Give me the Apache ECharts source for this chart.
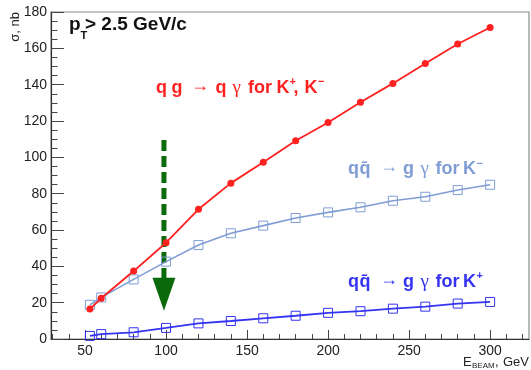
<!DOCTYPE html>
<html>
<head>
<meta charset="utf-8">
<script src="https://cdn.jsdelivr.net/npm/echarts@6/dist/echarts.min.js"></script>
<style>
  html, body { margin: 0; padding: 0; background: #fff; }
  #chart { width: 531px; height: 370px; }
</style>
</head>
<body>
<div id="chart"></div>
<script>
// Beam energy points (GeV) and photon cross sections (nb), pT > 2.5 GeV/c
const beamEnergy = [53, 60, 80, 100, 120, 140, 160, 180, 200, 220, 240, 260, 280, 300];
const sigmaQG = [16.5, 22.4, 37.4, 53.0, 71.4, 85.8, 97.3, 109.1, 119.2, 130.3, 140.7, 151.7, 162.4, 171.5];
const sigmaQQbarKminus = [18.8, 22.9, 32.8, 42.6, 51.7, 58.2, 62.4, 66.6, 69.7, 72.5, 76.1, 78.3, 82.0, 84.9];
const sigmaQQbarKplus = [1.7, 2.7, 3.7, 6.1, 8.6, 9.9, 11.4, 12.8, 14.4, 15.3, 16.7, 17.8, 19.5, 20.4];

// Axis tick values
const xMajorTicks = [50, 100, 150, 200, 250, 300];
const xMinorTicks = [30, 40, 60, 70, 80, 90, 110, 120, 130, 140, 160, 170, 180, 190,
                     210, 220, 230, 240, 260, 270, 280, 290, 310, 320];
const yMajorTicks = [0, 20, 40, 60, 80, 100, 120, 140, 160, 180];
const yMinorTicks = [5, 10, 15, 25, 30, 35, 45, 50, 55, 65, 70, 75, 85, 90, 95,
                     105, 110, 115, 125, 130, 135, 145, 150, 155, 165, 170, 175];

// Vertical arrow marker: [beam energy, shaft top (nb), tip (nb)]
const arrowMarker = [[98.7, 109.5, 15.6]];

const RED = '#ff2020';
const LIGHT_BLUE = '#7f9dd4';
const BLUE = '#3434f2';
const GREEN = '#0b6a0b';
const AXIS_DARK = '#333';
const TICK = '#444';

function pairs(xs, ys) { return xs.map((x, i) => [x, ys[i]]); }

function tok(x, y, text, font, fill, extra) {
  return Object.assign({
    type: 'text', x: x, y: y, silent: true,
    style: { text: text, font: font, fill: fill, align: 'left', verticalAlign: 'middle' }
  }, extra || {});
}

const SANS = '"Liberation Sans", Arial, sans-serif';
const BOLD = 'bold 18px ' + SANS;
const SUP = 'bold 11px ' + SANS;
const ARROW = '18px "Liberation Sans", "DejaVu Sans", sans-serif';
const GAMMA = '19px "Liberation Serif", "DejaVu Serif", serif';

function processLabel(xs, y, fill, sign) {
  // "q q̄ → g γ for K±"
  return [
    tok(xs[0], y, 'q', BOLD, fill),
    tok(xs[1], y, 'q\u0304', BOLD, fill),
    tok(xs[2], y - 2, '\u2192', ARROW, fill),
    tok(xs[3], y, 'g', BOLD, fill),
    tok(xs[4], y, '\u03b3', GAMMA, fill),
    tok(xs[5], y, 'for', BOLD, fill),
    tok(xs[6], y, 'K', BOLD, fill),
    tok(xs[7], y - 6, sign, SUP, fill)
  ];
}

const graphics = [].concat(
  // pT > 2.5 GeV/c
  [
    tok(69, 25, 'p', 'bold 19px ' + SANS, '#111'),
    tok(80.5, 36, 'T', 'bold 11px ' + SANS, '#111'),
    tok(85, 25, '> 2.5 GeV/c', 'bold 19px ' + SANS, '#111')
  ],
  // q g → q γ for K+, K−
  [
    tok(156, 88, 'q', BOLD, RED),
    tok(171.5, 88, 'g', BOLD, RED),
    tok(191, 86, '\u2192', ARROW, RED),
    tok(215.5, 88, 'q', BOLD, RED),
    tok(232.5, 88, '\u03b3', GAMMA, RED),
    tok(248, 88, 'for', BOLD, RED),
    tok(276.5, 88, 'K', BOLD, RED),
    tok(289.5, 82, '+', SUP, RED),
    tok(293.5, 88, ',', BOLD, RED),
    tok(304.5, 88, 'K', BOLD, RED),
    tok(318, 82, '\u2212', SUP, RED)
  ],
  processLabel([348, 359.5, 380, 403, 420.5, 435.5, 463, 476.5], 169.5, LIGHT_BLUE, '\u2212'),
  processLabel([348, 359.5, 380, 403, 420.5, 435.5, 463, 476.5], 282, BLUE, '+'),
  // axis titles
  [
    tok(15, 12, '\u03c3, nb', '13px ' + SANS, '#222',
        { rotation: Math.PI / 2, style: { text: '\u03c3, nb', font: '13px ' + SANS,
          fill: '#222', align: 'right', verticalAlign: 'middle' } }),
    tok(463, 362, 'E', '13px ' + SANS, '#222'),
    tok(472, 366, 'BEAM', '8px ' + SANS, '#222'),
    tok(495, 362, ',', '13px ' + SANS, '#222'),
    tok(503, 362, 'GeV', '13px ' + SANS, '#222')
  ]
);

const chart = echarts.init(document.getElementById('chart'), null, { renderer: 'canvas' });

const labelFont = { fontFamily: SANS, fontSize: 14, color: '#222' };

// Extra axis that only carries the short secondary ticks (negative length draws them into the plot)
function tickAxis(min, max, values, length, extra) {
  return Object.assign({
    type: 'value', min: min, max: max,
    axisLine: { show: false },
    axisTick: { show: true, length: length, customValues: values, lineStyle: { color: TICK, width: 1 } },
    axisLabel: { show: false },
    splitLine: { show: false }
  }, extra);
}

chart.setOption({
  animation: false,
  backgroundColor: '#fff',
  grid: { left: 51, right: 2, top: 12, bottom: 31, show: true, borderColor: '#8a8a8a', borderWidth: 1.2 },
  xAxis: [
    {
      type: 'value', min: 29, max: 324, position: 'bottom',
      axisLine: { show: true, lineStyle: { color: AXIS_DARK, width: 1.2 } },
      axisTick: { show: true, length: -9, customValues: xMajorTicks, lineStyle: { color: TICK, width: 1 } },
      axisLabel: Object.assign({ margin: 5, customValues: xMajorTicks }, labelFont),
      splitLine: { show: false }
    },
    tickAxis(29, 324, xMinorTicks, -5, { position: 'bottom' })
  ],
  yAxis: [
    {
      type: 'value', min: 0, max: 180, position: 'left',
      axisLine: { show: true, lineStyle: { color: AXIS_DARK, width: 1.2 } },
      axisTick: { show: true, length: -13, customValues: yMajorTicks, lineStyle: { color: TICK, width: 1 } },
      axisLabel: Object.assign({ margin: 4, customValues: yMajorTicks }, labelFont),
      splitLine: { show: false }
    },
    tickAxis(0, 180, yMinorTicks, -6.5, { position: 'left' })
  ],
  graphic: graphics,
  series: [
    {
      type: 'custom', coordinateSystem: 'cartesian2d', z: 1,
      data: arrowMarker,
      encode: { x: 0, y: [1, 2] },
      renderItem: function (params, api) {
        const top = api.coord([api.value(0), api.value(1)]);
        const tip = api.coord([api.value(0), api.value(2)]);
        const headLen = 33, headHalf = 11.5;
        return {
          type: 'group',
          children: [
            { type: 'line', shape: { x1: top[0], y1: top[1], x2: tip[0], y2: tip[1] - headLen + 1 },
              style: { stroke: GREEN, lineWidth: 5, lineDash: [11, 5] } },
            { type: 'polygon', shape: { points: [[tip[0] - headHalf, tip[1] - headLen], [tip[0] + headHalf, tip[1] - headLen], [tip[0], tip[1]]] },
              style: { fill: GREEN } }
          ]
        };
      }
    },
    {
      name: 'qqbar K-', type: 'line', z: 2,
      data: pairs(beamEnergy, sigmaQQbarKminus),
      lineStyle: { color: LIGHT_BLUE, width: 1.6 },
      symbol: 'rect', symbolSize: 9,
      itemStyle: { color: 'rgba(255,255,255,0)', borderColor: LIGHT_BLUE, borderWidth: 1 }
    },
    {
      name: 'qqbar K+', type: 'line', z: 3,
      data: pairs(beamEnergy, sigmaQQbarKplus),
      lineStyle: { color: BLUE, width: 1.8 },
      symbol: 'rect', symbolSize: 9,
      itemStyle: { color: 'rgba(255,255,255,0)', borderColor: BLUE, borderWidth: 1 }
    },
    {
      name: 'qg', type: 'line', z: 4,
      data: pairs(beamEnergy, sigmaQG),
      lineStyle: { color: RED, width: 1.8 },
      symbol: 'circle', symbolSize: 7,
      itemStyle: { color: RED, borderWidth: 0 }
    }
  ]
});
</script>
</body>
</html>
